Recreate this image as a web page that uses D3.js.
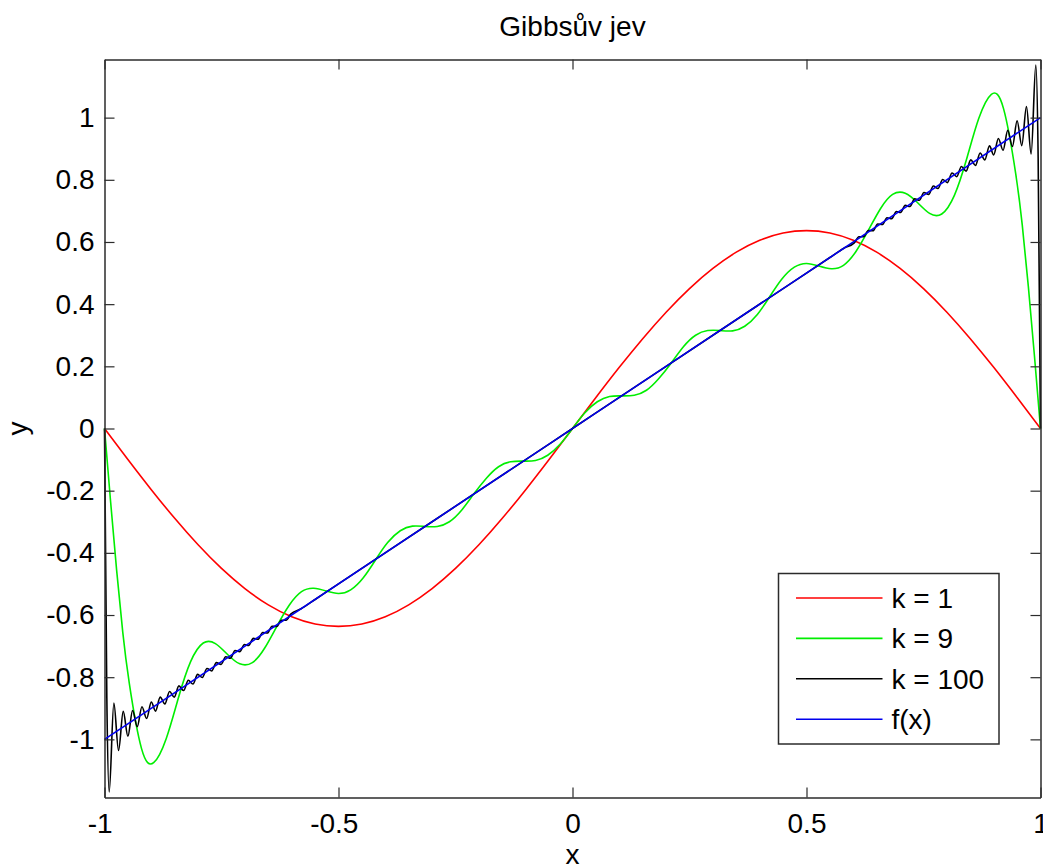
<!DOCTYPE html>
<html>
<head>
<meta charset="utf-8">
<script src="https://cdn.jsdelivr.net/npm/d3@7"></script>
<style>
  body { margin: 0; background: #fff; }
  svg { display: block; font-family: "Liberation Sans", Arial, sans-serif; }
</style>
</head>
<body>
<svg id="chart" width="1043" height="867"></svg>
<script>
// values, as [x, y]
const xTicks = [-1, -0.5, 0, 0.5, 1];
const yTicks = [-1, -0.8, -0.6, -0.4, -0.2, 0, 0.2, 0.4, 0.6, 0.8, 1];
const seriesNames = ['k = 1', 'k = 9', 'k = 100', 'f(x)'];

const k1 = [
  [-1, 0], [-0.95, -0.0996], [-0.9, -0.1967], [-0.85, -0.289], [-0.8, -0.3742],
  [-0.75, -0.4502], [-0.7, -0.515], [-0.65, -0.5672], [-0.6, -0.6055], [-0.55, -0.6288],
  [-0.5, -0.6366], [-0.45, -0.6288], [-0.4, -0.6055], [-0.35, -0.5672], [-0.3, -0.515],
  [-0.25, -0.4502], [-0.2, -0.3742], [-0.15, -0.289], [-0.1, -0.1967], [-0.05, -0.0996],
  [0, 0], [0.05, 0.0996], [0.1, 0.1967], [0.15, 0.289], [0.2, 0.3742],
  [0.25, 0.4502], [0.3, 0.515], [0.35, 0.5672], [0.4, 0.6055], [0.45, 0.6288],
  [0.5, 0.6366], [0.55, 0.6288], [0.6, 0.6055], [0.65, 0.5672], [0.7, 0.515],
  [0.75, 0.4502], [0.8, 0.3742], [0.85, 0.289], [0.9, 0.1967], [0.95, 0.0996], [1, 0]
];

const k9 = [
  [-1, 0], [-0.987, -0.235], [-0.974, -0.457], [-0.961, -0.655], [-0.947, -0.820],
  [-0.921, -1.029], [-0.895, -1.075], [-0.868, -0.997], [-0.842, -0.866], [-0.816, -0.750],
  [-0.789, -0.690], [-0.763, -0.692], [-0.737, -0.727], [-0.711, -0.757], [-0.684, -0.753],
  [-0.658, -0.707], [-0.632, -0.637], [-0.605, -0.568], [-0.579, -0.525], [-0.553, -0.514],
  [-0.526, -0.523], [-0.5, -0.531], [-0.474, -0.519], [-0.447, -0.480], [-0.421, -0.423],
  [-0.395, -0.367], [-0.368, -0.329], [-0.342, -0.314], [-0.316, -0.315], [-0.289, -0.315],
  [-0.263, -0.300], [-0.237, -0.263], [-0.211, -0.211], [-0.184, -0.160], [-0.158, -0.123],
  [-0.132, -0.107], [-0.105, -0.105], [-0.079, -0.103], [-0.053, -0.086], [-0.026, -0.050],
  [0, 0],
  [0.026, 0.050], [0.053, 0.086], [0.079, 0.103], [0.105, 0.105], [0.132, 0.107],
  [0.158, 0.123], [0.184, 0.160], [0.211, 0.211], [0.237, 0.263], [0.263, 0.300],
  [0.289, 0.315], [0.316, 0.315], [0.342, 0.314], [0.368, 0.329], [0.395, 0.367],
  [0.421, 0.423], [0.447, 0.480], [0.474, 0.519], [0.5, 0.531], [0.526, 0.523],
  [0.553, 0.514], [0.579, 0.525], [0.605, 0.568], [0.632, 0.637], [0.658, 0.707],
  [0.684, 0.753], [0.711, 0.757], [0.737, 0.727], [0.763, 0.692], [0.789, 0.690],
  [0.816, 0.750], [0.842, 0.866], [0.868, 0.997], [0.895, 1.075], [0.921, 1.029],
  [0.947, 0.820], [0.961, 0.655], [0.974, 0.457], [0.987, 0.235], [1, 0]
];

const k100 = [
  [-1, 0], [-0.995, -0.868], [-0.990, -1.169], [-0.980, -0.883], [-0.970, -1.036],
  [-0.960, -0.910], [-0.950, -0.990], [-0.940, -0.907], [-0.930, -0.959], [-0.920, -0.895],
  [-0.910, -0.933], [-0.900, -0.880], [-0.891, -0.909], [-0.881, -0.864], [-0.871, -0.886],
  [-0.861, -0.846], [-0.851, -0.864], [-0.841, -0.828], [-0.831, -0.843], [-0.821, -0.810],
  [-0.811, -0.822], [-0.801, -0.791], [-0.791, -0.801], [-0.781, -0.772], [-0.771, -0.780],
  [-0.761, -0.753], [-0.751, -0.759], [-0.741, -0.734], [-0.731, -0.739], [-0.721, -0.714],
  [-0.711, -0.718], [-0.701, -0.695], [-0.692, -0.698], [-0.682, -0.675], [-0.672, -0.678],
  [-0.662, -0.656], [-0.652, -0.658], [-0.642, -0.636], [-0.632, -0.637], [-0.622, -0.617],
  [-0.612, -0.617], [-0.602, -0.597], [-0.58, -0.58], [-0.55, -0.55],
  [-0.5, -0.5], [-0.3, -0.3], [-0.1, -0.1], [0, 0], [0.1, 0.1], [0.3, 0.3], [0.5, 0.5],
  [0.55, 0.55], [0.58, 0.58], [0.602, 0.597], [0.612, 0.617], [0.622, 0.617],
  [0.632, 0.637], [0.642, 0.636], [0.652, 0.658], [0.662, 0.656], [0.672, 0.678],
  [0.682, 0.675], [0.692, 0.698], [0.701, 0.695], [0.711, 0.718], [0.721, 0.714],
  [0.731, 0.739], [0.741, 0.734], [0.751, 0.759], [0.761, 0.753], [0.771, 0.780],
  [0.781, 0.772], [0.791, 0.801], [0.801, 0.791], [0.811, 0.822], [0.821, 0.810],
  [0.831, 0.843], [0.841, 0.828], [0.851, 0.864], [0.861, 0.846], [0.871, 0.886],
  [0.881, 0.864], [0.891, 0.909], [0.900, 0.880], [0.910, 0.933], [0.920, 0.895],
  [0.930, 0.959], [0.940, 0.907], [0.950, 0.990], [0.960, 0.910], [0.970, 1.036],
  [0.980, 0.883], [0.990, 1.169], [0.995, 0.868], [1, 0]
];

const fx = [[-1, -1], [1, 1]];

const colors = ['#ff0000', '#00ee00', '#000000', '#0000ee'];

const width = 1043, height = 867;
const margin = {top: 59.5, right: 2.5, bottom: 69.5, left: 104.5};
const fontSize = 28;
const axisColor = '#2b2b2b';

const svg = d3.select('#chart');

const x = d3.scaleLinear()
  .domain([-1, 1])
  .range([margin.left, width - margin.right]);

const y = d3.scaleLinear()
  .domain([-1.187, 1.187])
  .range([height - margin.bottom, margin.top]);

const fmt = d => String(d);

const series = [
  {name: seriesNames[0], values: k1, curve: d3.curveNatural},
  {name: seriesNames[1], values: k9, curve: d3.curveNatural},
  {name: seriesNames[2], values: k100, curve: d3.curveMonotoneX},
  {name: seriesNames[3], values: fx, curve: d3.curveLinear}
];

svg.append('rect')
  .attr('x', margin.left).attr('y', margin.top)
  .attr('width', width - margin.left - margin.right)
  .attr('height', height - margin.top - margin.bottom)
  .attr('fill', '#fff');

// curves
svg.append('g')
    .attr('fill', 'none')
    .attr('stroke-width', 1.6)
    .attr('stroke-linejoin', 'round')
  .selectAll('path')
  .data(series)
  .join('path')
    .attr('stroke', (d, i) => colors[i])
    .attr('d', d => d3.line()
      .x(p => x(p[0]))
      .y(p => y(p[1]))
      .curve(d.curve)(d.values));

// axes, ticks pointing inwards on all four sides
const styleAxis = g => {
  g.select('.domain').attr('stroke', axisColor).attr('stroke-width', 1.5);
  g.selectAll('.tick line').attr('stroke', axisColor).attr('stroke-width', 1.2);
  g.selectAll('.tick text')
    .attr('fill', '#000')
    .attr('font-size', fontSize)
    .attr('font-family', '"Liberation Sans", Arial, sans-serif');
};

svg.append('g')
  .attr('transform', `translate(0,${height - margin.bottom})`)
  .call(d3.axisBottom(x).tickValues(xTicks).tickFormat(fmt).tickSize(-10).tickSizeOuter(0).tickPadding(15.5))
  .call(styleAxis)
  .call(g => g.selectAll('.tick text').attr('dx', d => d < 0 ? '-0.17em' : 0));

svg.append('g')
  .attr('transform', `translate(0,${margin.top})`)
  .call(d3.axisTop(x).tickValues(xTicks).tickFormat('').tickSize(-10).tickSizeOuter(0))
  .call(styleAxis);

svg.append('g')
  .attr('transform', `translate(${margin.left},0)`)
  .call(d3.axisLeft(y).tickValues(yTicks).tickFormat(fmt).tickSize(-10).tickSizeOuter(0).tickPadding(10))
  .call(styleAxis);

svg.append('g')
  .attr('transform', `translate(${width - margin.right},0)`)
  .call(d3.axisRight(y).tickValues(yTicks).tickFormat('').tickSize(-10).tickSizeOuter(0))
  .call(styleAxis);

// title and axis labels
svg.append('text')
  .attr('x', (margin.left + width - margin.right) / 2)
  .attr('y', 36)
  .attr('text-anchor', 'middle')
  .attr('font-size', fontSize)
  .text('Gibbsův jev');

svg.append('text')
  .attr('x', (margin.left + width - margin.right) / 2)
  .attr('y', 864)
  .attr('text-anchor', 'middle')
  .attr('font-size', fontSize)
  .text('x');

svg.append('text')
  .attr('transform', `translate(27,${y(0)}) rotate(-90)`)
  .attr('text-anchor', 'middle')
  .attr('font-size', fontSize)
  .text('y');

// legend
const legend = svg.append('g').attr('transform', 'translate(778.5,573.5)');
legend.append('rect')
  .attr('width', 220.5).attr('height', 170.5)
  .attr('fill', '#fff')
  .attr('stroke', axisColor).attr('stroke-width', 1.5);

const rows = legend.selectAll('g.row')
  .data(seriesNames)
  .join('g')
    .attr('class', 'row')
    .attr('transform', (d, i) => `translate(0,${24.5 + i * 40.4})`);

rows.append('line')
  .attr('x1', 17.5).attr('x2', 104)
  .attr('stroke', (d, i) => colors[i])
  .attr('stroke-width', 1.6);

rows.append('text')
  .attr('x', 113)
  .attr('y', 10)
  .attr('font-size', fontSize)
  .text(d => d);
</script>
</body>
</html>
